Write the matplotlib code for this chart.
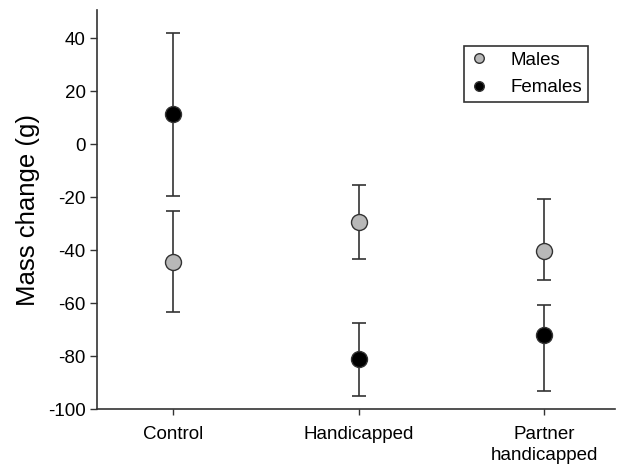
import matplotlib
matplotlib.use("Agg")
import matplotlib.pyplot as plt
import numpy as np

plt.rcParams['font.family'] = ['Liberation Sans', 'DejaVu Sans']
plt.rcParams['axes.unicode_minus'] = False

categories = ["Control", "Handicapped", "Partner\nhandicapped"]
males_mean = [-44.3, -29.2, -40.5]
males_upper = [-25.1, -15.3, -20.6]
males_lower = [-63.5, -43.2, -51.1]
females_mean = [11.4, -81.2, -72.1]
females_upper = [41.9, -67.3, -60.8]
females_lower = [-19.5, -95.2, -93.3]

x = np.arange(len(categories))
fig = plt.figure(figsize=(6.28, 4.65), dpi=100)
ax = fig.add_axes([0.154, 0.12, 0.825, 0.858])

def plot_series(mean, lo, hi, color, label):
    mean = np.array(mean); lo = np.array(lo); hi = np.array(hi)
    yerr = np.vstack([mean - lo, hi - mean])
    ax.errorbar(x, mean, yerr=yerr, fmt='none', ecolor='#333333', elinewidth=1.2,
                capsize=5, capthick=1.2, zorder=2)
    ax.plot(x, mean, 'o', markersize=11.5, markerfacecolor=color, markeredgecolor='#333333',
            markeredgewidth=1.0, linestyle='none', zorder=3, label=label)

plot_series(males_mean, males_lower, males_upper, '#b8b8b8', 'Males')
plot_series(females_mean, females_lower, females_upper, '#000000', 'Females')

ax.set_xlim(-0.41, 2.38)
ax.set_ylim(-100, 50.5)
ax.set_yticks(np.arange(-100, 41, 20))
ax.set_xticks(x)
ax.set_xticklabels(categories, fontsize=13.5, linespacing=1.3)
ax.tick_params(axis='y', labelsize=13.5, direction='out', length=5, width=1, color='#333333', pad=3)
ax.tick_params(axis='x', direction='out', length=4, width=1, color='#333333', pad=8)
for s in ['top', 'right']:
    ax.spines[s].set_visible(False)
for s in ['left', 'bottom']:
    ax.spines[s].set_color('#333333')
    ax.spines[s].set_linewidth(1.2)
ax.set_ylabel("Mass change (g)", fontsize=18.5, labelpad=6)

leg = ax.legend(loc='upper right', bbox_to_anchor=(0.948, 0.91), fontsize=13.5, markerscale=0.6,
                fancybox=False, framealpha=1, edgecolor='#333333', handletextpad=1.2,
                borderpad=0.3, labelspacing=0.55, handlelength=1.0, borderaxespad=0)
leg.get_frame().set_linewidth(1.2)

fig.savefig("out.png", dpi=100)
